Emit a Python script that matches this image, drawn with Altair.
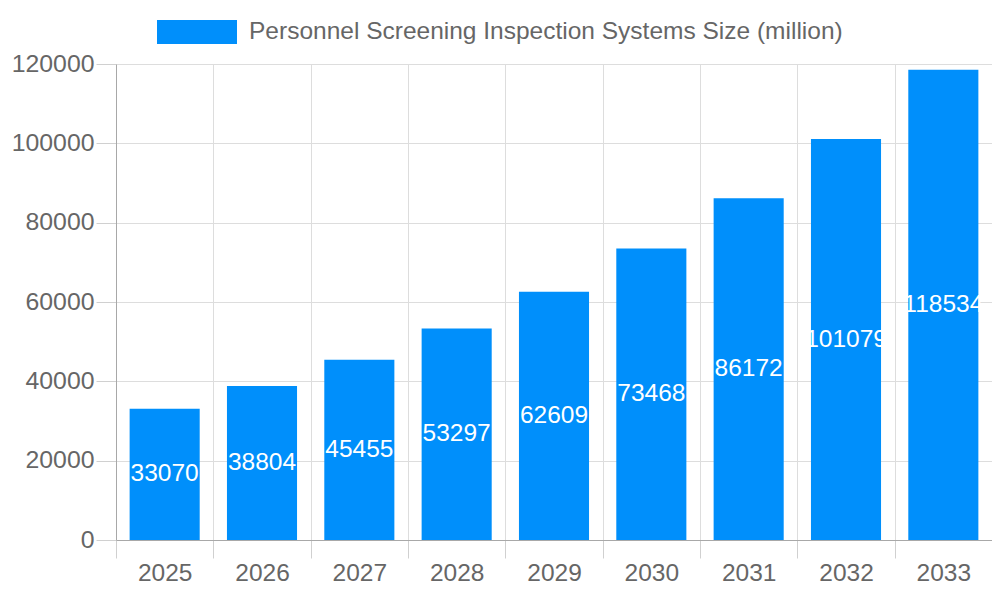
import altair as alt
import pandas as pd

years = ["2025", "2026", "2027", "2028", "2029", "2030", "2031", "2032", "2033"]
values = [33070, 38804, 45455, 53297, 62609, 73468, 86172, 101079, 118534]
series_name = "Personnel Screening Inspection Systems Size (million)"

df = pd.DataFrame({"year": years, "value": values, "series": [series_name] * len(years)})

FONT = "Liberation Sans"
GREY = "#666666"
BLUE = "#008FFB"

base = alt.Chart(df)

x_enc = alt.X(
    "year:N",
    sort=years,
    scale=alt.Scale(paddingInner=0, paddingOuter=0),
    axis=alt.Axis(
        title=None,
        labelAngle=0,
        labelFontSize=24.5,
        labelColor=GREY,
        labelPadding=3,
        tickBand="extent",
        tickSize=18,
        tickColor="#d0d0d0",
        grid=True,
        gridColor="#dddddd",
        domainColor="#a8a8a8",
    ),
)

bars = base.mark_bar(color=BLUE, width=alt.RelativeBandSize(0.72)).encode(
    x=x_enc,
    y=alt.Y(
        "value:Q",
        scale=alt.Scale(domain=[0, 120000], nice=False),
        axis=alt.Axis(
            title=None,
            values=[0, 20000, 40000, 60000, 80000, 100000, 120000],
            format="d",
            labelFontSize=24.8,
            labelColor=GREY,
            labelPadding=2,
            tickSize=20,
            tickColor="#d0d0d0",
            gridColor="#dddddd",
            domainColor="#a8a8a8",
        ),
    ),
    color=alt.Color(
        "series:N",
        scale=alt.Scale(range=[BLUE]),
        legend=alt.Legend(
            title=None,
            orient="none",
            legendX=41,
            legendY=-72,
            padding=0,
            symbolType="M-1,-0.3L1,-0.3L1,0.3L-1,0.3Z",
            symbolSize=6400,
            symbolStrokeWidth=0,
            symbolOpacity=1,
            labelFontSize=24.5,
            labelColor=GREY,
            labelOffset=12,
            labelLimit=900,
        ),
    ),
)

labels = base.transform_calculate(mid="datum.value / 2").mark_text(
    color="white", fontSize=24.5, baseline="middle", align="center"
).encode(
    x=alt.X("year:N", sort=years),
    y=alt.Y("mid:Q"),
    text=alt.Text("value:Q", format="d"),
)

chart = (
    alt.layer(bars, labels)
    .properties(
        width=876,
        height=476,
        autosize=alt.AutoSizeParams(type="none"),
        padding={"left": 108, "top": 56, "right": 0, "bottom": 52},
    )
    .configure(font=FONT)
    .configure_view(stroke=None)
)

chart.save("out.html", embed_options={"renderer": "svg", "actions": False})
